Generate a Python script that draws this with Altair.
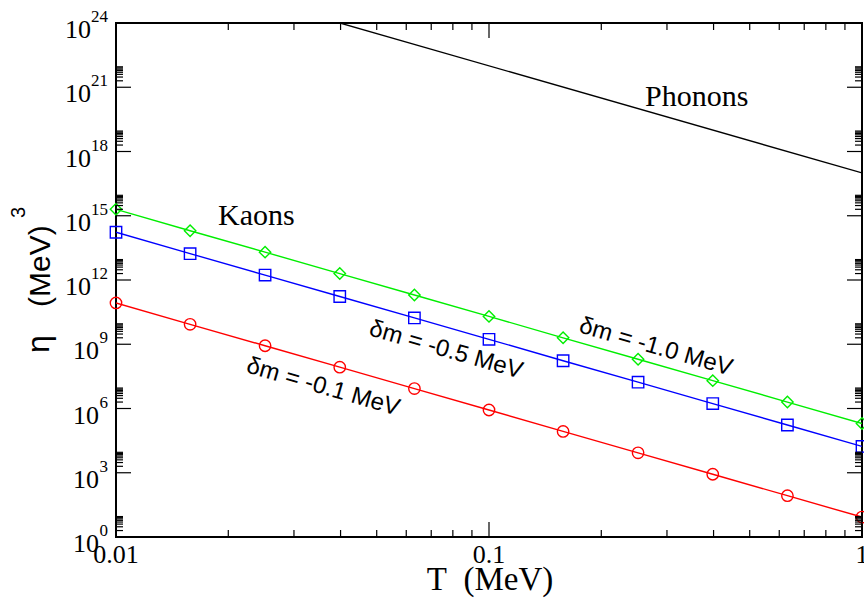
import altair as alt
import pandas as pd

# Temperature grid of the kaon calculation (MeV)
T = [0.01, 0.0158, 0.0251, 0.0398, 0.0631, 0.1, 0.158, 0.251, 0.398, 0.631, 1.0]

# eta (MeV^3) for the three mass splittings
eta_dm01 = [8.5e10, 8.5e9, 8.5e8, 8.5e7, 8.5e6, 8.5e5, 8.5e4, 8.5e3, 8.5e2, 8.5e1, 8.5e0]
eta_dm05 = [1.7e14, 1.7e13, 1.7e12, 1.7e11, 1.7e10, 1.7e9, 1.7e8, 1.7e7, 1.7e6, 1.7e5, 1.7e4]
eta_dm10 = [2.0e15, 2.0e14, 2.0e13, 2.0e12, 2.0e11, 2.0e10, 2.0e9, 2.0e8, 2.0e7, 2.0e6, 2.0e5]

# Phonon contribution (straight line in log-log)
T_phonon = [0.01, 1.0]
eta_phonon = [1e27, 1e17]

series_names = ["dm=-0.1", "dm=-0.5", "dm=-1.0"]
series_colors = ["#ff0000", "#0000ff", "#00ee00"]
series_shapes = ["circle", "square", "diamond"]

# Axis ticks and labels
x_major = [0.01, 0.1, 1.0]
x_labels = ["0.01", "0.1", "1"]
x_minor = [0.02, 0.03, 0.04, 0.05, 0.06, 0.07, 0.08, 0.09,
           0.2, 0.3, 0.4, 0.5, 0.6, 0.7, 0.8, 0.9]
y_exponents = [0, 3, 6, 9, 12, 15, 18, 21, 24]
y_minor = [m * 10.0 ** e for e in y_exponents[:-1] for m in range(2, 10)]

# Annotation text and anchor positions in data coordinates
curve_labels = ["\u03b4m = -0.1 MeV", "\u03b4m = -0.5 MeV", "\u03b4m = -1.0 MeV"]
curve_label_T = [0.0222, 0.0474, 0.1732]
curve_label_eta = [5.0e7, 2.7e9, 3.7e9]

W, H = 746, 514
xs = alt.Scale(type="log", domain=[0.01, 1.0])
ys = alt.Scale(type="log", domain=[1.0, 1e24])

kaons = pd.DataFrame({
    "T": T * 3,
    "eta": eta_dm01 + eta_dm05 + eta_dm10,
    "series": [s for s in series_names for _ in T],
})
phon = pd.DataFrame({"T": T_phonon, "eta": eta_phonon})

X = alt.X("T:Q", scale=xs, axis=None)
Y = alt.Y("eta:Q", scale=ys, axis=None)
col = alt.Color("series:N", scale=alt.Scale(domain=series_names, range=series_colors), legend=None)
shp = alt.Shape("series:N", scale=alt.Scale(domain=series_names, range=series_shapes), legend=None)

phonon_line = alt.Chart(phon).mark_line(color="black", strokeWidth=1.4, clip=True).encode(x=X, y=Y)
kaon_lines = alt.Chart(kaons).mark_line(strokeWidth=1.4, clip=True).encode(x=X, y=Y, color=col, detail="series:N")
kaon_pts = alt.Chart(kaons).mark_point(filled=False, size=130, strokeWidth=1.4, opacity=1).encode(
    x=X, y=Y, color=col, shape=shp)

# Ticks drawn inward on all four sides
xmaj = pd.DataFrame({"v": x_major, "lab": x_labels})
xmin = pd.DataFrame({"v": x_minor})
ymaj = pd.DataFrame({"v": [10.0 ** e for e in y_exponents], "e": [str(e) for e in y_exponents]})
ymin = pd.DataFrame({"v": y_minor})

XV = alt.X("v:Q", scale=xs, axis=None)
YV = alt.Y("v:Q", scale=ys, axis=None)
tick = dict(color="black", strokeWidth=1.2)

ticks = [
    alt.Chart(xmaj).mark_rule(**tick).encode(x=XV, y=alt.value(H), y2=alt.value(H - 15)),
    alt.Chart(xmaj).mark_rule(**tick).encode(x=XV, y=alt.value(0), y2=alt.value(15)),
    alt.Chart(xmin).mark_rule(**tick).encode(x=XV, y=alt.value(H), y2=alt.value(H - 7)),
    alt.Chart(xmin).mark_rule(**tick).encode(x=XV, y=alt.value(0), y2=alt.value(7)),
    alt.Chart(ymaj).mark_rule(**tick).encode(y=YV, x=alt.value(0), x2=alt.value(15)),
    alt.Chart(ymaj).mark_rule(**tick).encode(y=YV, x=alt.value(W), x2=alt.value(W - 15)),
    alt.Chart(ymin).mark_rule(**tick).encode(y=YV, x=alt.value(0), x2=alt.value(7)),
    alt.Chart(ymin).mark_rule(**tick).encode(y=YV, x=alt.value(W), x2=alt.value(W - 7)),
]

serif = "Liberation Serif"
sans = "Liberation Sans"

x_ticklabels = alt.Chart(xmaj).mark_text(font=serif, fontSize=26, align="center", baseline="alphabetic",
                                         color="black").encode(x=XV, y=alt.value(H + 26), text="lab:N")

y_base2 = alt.Chart(ymaj).transform_filter("length(datum.e) == 2").mark_text(
    font=serif, fontSize=26, align="right", baseline="alphabetic", dy=15, color="black"
).encode(y=YV, x=alt.value(-25), text=alt.value("10"))
y_base1 = alt.Chart(ymaj).transform_filter("length(datum.e) == 1").mark_text(
    font=serif, fontSize=26, align="right", baseline="alphabetic", dy=15, color="black"
).encode(y=YV, x=alt.value(-17), text=alt.value("10"))
y_exp = alt.Chart(ymaj).mark_text(
    font=serif, fontSize=17, align="right", baseline="alphabetic", dy=-1, color="black"
).encode(y=YV, x=alt.value(-8), text="e:N")

# Axis titles (vertical ones read bottom-to-top, anchored at their start)
title_df = pd.DataFrame({"k": [0]})
x_title = alt.Chart(title_df).mark_text(font=serif, fontSize=33, align="center", baseline="alphabetic",
                                        color="black").encode(
    x=alt.value(374), y=alt.value(567), text=alt.value("T\u00a0\u00a0(MeV)"))
y_title_eta = alt.Chart(title_df).mark_text(font=sans, fontSize=32, align="left", baseline="alphabetic",
                                            angle=270, color="black").encode(
    x=alt.value(-67), y=alt.value(330), text=alt.value("\u03b7"))
y_title_unit = alt.Chart(title_df).mark_text(font=sans, fontSize=30, align="left", baseline="alphabetic",
                                             angle=270, color="black").encode(
    x=alt.value(-66), y=alt.value(284), text=alt.value("(MeV)"))
y_title_pow = alt.Chart(title_df).mark_text(font=sans, fontSize=20, align="left", baseline="alphabetic",
                                            angle=270, color="black").encode(
    x=alt.value(-91), y=alt.value(195), text=alt.value("3"))

# Curve annotations
names_df = pd.DataFrame({"T": [0.01877, 0.262], "eta": [3.7e14, 1.33e20], "txt": ["Kaons", "Phonons"]})
names = alt.Chart(names_df).mark_text(font=serif, fontSize=30, align="left", baseline="alphabetic",
                                      color="black").encode(x=X, y=Y, text="txt:N")
dm_df = pd.DataFrame({"T": curve_label_T, "eta": curve_label_eta, "txt": curve_labels})
dm_text = alt.Chart(dm_df).mark_text(font=sans, fontSize=24, align="left", baseline="alphabetic",
                                     angle=16, color="black").encode(x=X, y=Y, text="txt:N")

chart = alt.layer(
    phonon_line, kaon_lines, kaon_pts, *ticks,
    x_ticklabels, y_base2, y_base1, y_exp,
    x_title, y_title_eta, y_title_unit, y_title_pow,
    names, dm_text,
).properties(
    width=W, height=H,
    autosize=alt.AutoSizeParams(type="none"),
    padding={"left": 116, "top": 23, "right": 2, "bottom": 61},
    background="white",
).configure_view(stroke="black", strokeWidth=2)

chart.save("out.html", embed_options={"renderer": "svg", "actions": False})
